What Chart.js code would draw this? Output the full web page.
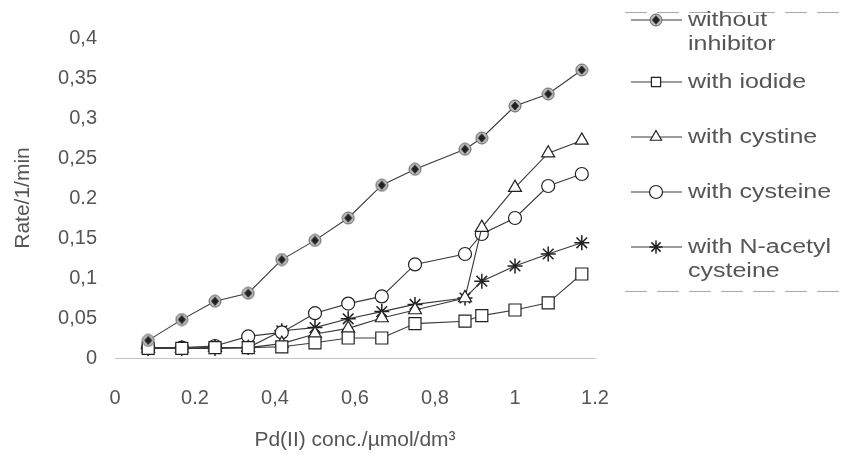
<!doctype html>
<html lang="en">
<head>
<meta charset="utf-8">
<title>Rate vs Pd(II) concentration</title>
<script src="https://cdn.jsdelivr.net/npm/chart.js@4/dist/chart.umd.min.js"></script>
<style>
  html, body { margin: 0; padding: 0; background: #fff; }
  #wrap { width: 843px; height: 454px; }
</style>
</head>
<body>
<div id="wrap"><canvas id="myChart"></canvas></div>
<script>
// Pd(II) concentration, umol/dm3
var conc = [0.083, 0.167, 0.25, 0.333, 0.417, 0.5, 0.583, 0.667, 0.75, 0.875, 0.917, 1.0, 1.083, 1.167]

// rate, 1/min
var withoutInhibitor = [0.022, 0.048, 0.071, 0.081, 0.123, 0.147, 0.175, 0.216, 0.236, 0.261, 0.275, 0.315, 0.33, 0.36]
var withIodide = [0.012, 0.012, 0.013, 0.013, 0.014, 0.019, 0.025, 0.025, 0.043, 0.046, 0.053, 0.06, 0.069, 0.105]
var withCystine = [0.012, 0.012, 0.013, 0.013, 0.018, 0.03, 0.037, 0.05, 0.06, 0.075, 0.163, 0.213, 0.256, 0.272]
var withCysteine = [0.013, 0.013, 0.015, 0.027, 0.032, 0.056, 0.068, 0.077, 0.117, 0.13, 0.155, 0.175, 0.215, 0.23]
var withNAcetyl = [0.012, 0.012, 0.012, 0.013, 0.034, 0.038, 0.049, 0.058, 0.067, 0.075, 0.096, 0.115, 0.13, 0.144]

var seriesNames = [['without', 'inhibitor'], ['with iodide'], ['with cystine'], ['with cysteine'], ['with N-acetyl', 'cysteine']]
var yTicks = ['0', '0,05', '0,1', '0,15', '0.2', '0,25', '0,3', '0,35', '0,4']
var xTicks = ['0', '0.2', '0,4', '0,6', '0,8', '1', '1.2']

function points(ys) {
    return conc.map(function (x, i) { return { x: x, y: ys[i] } })
}

// grey round marker with a dark diamond inside
var dotMark = document.createElement('canvas')
dotMark.width = 14
dotMark.height = 14
var dc = dotMark.getContext('2d')
dc.beginPath()
dc.arc(7, 7, 6, 0, Math.PI * 2)
dc.fillStyle = '#b8b8b8'
dc.fill()
dc.strokeStyle = '#666'
dc.lineWidth = 1
dc.stroke()
dc.beginPath()
dc.moveTo(7, 2.5); dc.lineTo(11, 7); dc.lineTo(7, 11.5); dc.lineTo(3, 7); dc.closePath()
dc.fillStyle = '#222'
dc.fill()

var ink = '#3a3a3a'
var font = "'Liberation Sans', Arial, sans-serif"

function series(name, ys, style, radius, bw) {
    return {
        label: name.join(' '),
        data: points(ys),
        showLine: true,
        borderColor: ink,
        borderWidth: 1.1,
        pointStyle: style,
        pointRadius: radius,
        pointHoverRadius: radius,
        pointBackgroundColor: '#fff',
        pointBorderColor: '#222',
        pointBorderWidth: bw
    }
}

var datasets = [
    series(seriesNames[0], withoutInhibitor, dotMark, 7, 1),
    series(seriesNames[1], withIodide, 'rect', 8.5, 1.2),
    series(seriesNames[2], withCystine, 'triangle', 7.5, 1.2),
    series(seriesNames[3], withCysteine, 'circle', 6.5, 1.2),
    series(seriesNames[4], withNAcetyl, 'star', 7.5, 1.5)
]

// legend at right, drawn by hand so labels can wrap
var sideLegend = {
    id: 'sideLegend',
    afterDraw: function (chart) {
        var ctx = chart.ctx
        var rows = [20, 82, 137, 192, 247]
        ctx.save()
        ctx.strokeStyle = '#aaa'
        ctx.lineWidth = 1
        ctx.setLineDash([22, 10])
        ctx.beginPath()
        ctx.moveTo(625, 12.5); ctx.lineTo(842, 12.5)
        ctx.moveTo(625, 291.5); ctx.lineTo(842, 291.5)
        ctx.stroke()
        ctx.setLineDash([])

        chart.data.datasets.forEach(function (ds, i) {
            var y = rows[i]
            ctx.strokeStyle = ink
            ctx.lineWidth = 1.2
            ctx.beginPath()
            ctx.moveTo(631, y); ctx.lineTo(682, y)
            ctx.stroke()
            ctx.fillStyle = '#fff'
            ctx.strokeStyle = '#222'
            ctx.lineWidth = ds.pointBorderWidth
            Chart.helpers.drawPoint(ctx, {
                pointStyle: ds.pointStyle,
                radius: Math.min(ds.pointRadius, 6.5),
                borderWidth: ds.pointBorderWidth,
                rotation: 0
            }, 656, y)

            ctx.fillStyle = '#555'
            ctx.font = '20px ' + font
            ctx.textBaseline = 'middle'
            ctx.textAlign = 'left'
            seriesNames[i].forEach(function (line, k) {
                ctx.save()
                ctx.scale(1.25, 1)
                ctx.fillText(line, 688 / 1.25, y + k * 24)
                ctx.restore()
            })
        })
        ctx.restore()
    }
}

new Chart(document.getElementById('myChart').getContext('2d'), {
    type: 'scatter',
    data: { datasets: datasets },
    plugins: [sideLegend],
    options: {
        responsive: true,
        maintainAspectRatio: false,
        animation: false,
        layout: { padding: { left: 5, right: 248, top: 38, bottom: 0 } },
        plugins: { legend: { display: false }, tooltip: { enabled: false } },
        scales: {
            x: {
                type: 'linear',
                min: 0,
                max: 1.2,
                afterFit: function (s) { s.height = 96 },
                grid: { display: false, drawTicks: false },
                border: { display: true, color: '#c4c4c4', dash: [30, 36] },
                ticks: {
                    stepSize: 0.2,
                    padding: 28,
                    color: '#555',
                    font: { family: font, size: 20 },
                    callback: function (v, i) { return xTicks[i] }
                },
                title: {
                    display: true,
                    text: 'Pd(II) conc./\u00b5mol/dm\u00b3',
                    color: '#555',
                    padding: { top: 0, bottom: 1 },
                    font: { family: font, size: 21 }
                }
            },
            y: {
                min: 0,
                max: 0.4,
                afterFit: function (s) { s.width = 110 },
                grid: { display: false, drawTicks: false },
                border: { display: false },
                ticks: {
                    stepSize: 0.05,
                    padding: 18,
                    color: '#555',
                    font: { family: font, size: 20 },
                    callback: function (v, i) { return yTicks[i] }
                },
                title: {
                    display: true,
                    text: 'Rate/1/min',
                    color: '#555',
                    padding: { top: 6, bottom: 0 },
                    font: { family: font, size: 21 }
                }
            }
        }
    }
})
</script>
</body>
</html>
